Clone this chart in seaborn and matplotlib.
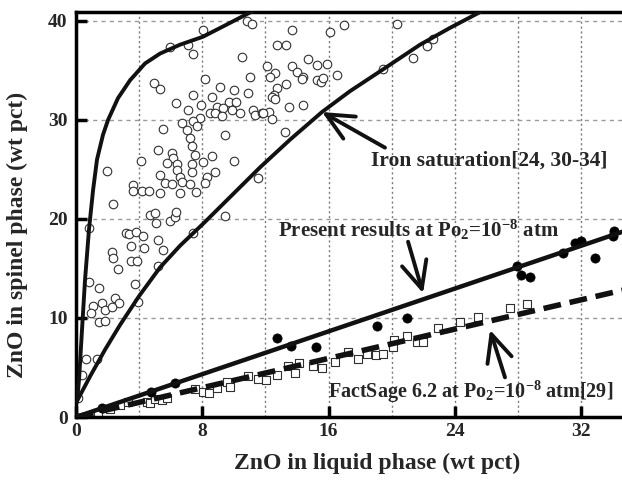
import matplotlib
matplotlib.use("Agg")
import matplotlib.pyplot as plt
import seaborn as sns
import pandas as pd
from matplotlib.ticker import MultipleLocator

# ---------------- data ----------------
# Iron saturation literature data (open circles)
lit_x = [10.83, 11.15, 8.04, 5.95, 7.09, 7.41, 10.51, 12.10, 11.02, 8.17, 4.94, 5.32, 9.12, 10.01,
         10.89, 7.41, 8.61, 6.33, 7.92, 9.69, 10.13, 8.93, 9.31, 9.88, 7.09, 8.49, 8.80, 9.25,
         10.39, 11.21, 11.34, 11.78, 7.85, 7.41, 7.66, 6.71, 5.51, 7.03, 9.44, 7.22, 7.35, 5.19,
         7.54, 6.08, 6.14, 8.61, 5.76, 6.40, 7.35, 8.04, 10.01, 4.12, 1.96, 6.40, 7.35, 8.80,
         5.32, 6.59, 8.30, 6.71, 5.64, 6.08, 7.22, 8.17, 3.61, 3.61, 4.18, 4.62, 5.32, 6.59,
         7.60, 11.53,
         16.97, 20.33, 16.09, 13.68, 12.73, 13.30, 14.69, 15.26, 15.90, 13.68, 14.00, 12.60,
         12.29, 14.38, 14.31, 16.53, 15.26, 15.52, 15.64, 13.30, 12.73, 12.54, 12.41, 12.60,
         13.49, 14.38, 12.22, 11.84, 12.41, 13.24, 19.44, 21.34, 22.23, 22.61,
         2.34, 4.69, 5.00, 5.07, 5.95, 6.27, 6.33, 9.44, 7.41, 3.17, 3.36, 3.80, 4.24, 5.19,
         3.48, 4.31, 5.51, 2.28, 2.34, 3.48, 3.86, 2.66, 5.19, 0.82, 1.46, 3.74, 2.47, 2.72,
         1.65, 1.08, 0.95, 1.84, 2.28, 3.93, 1.46, 1.84, 0.63, 1.33, 0.38, 0.13, 0.82]
lit_y = [40.0, 39.7, 39.1, 37.4, 37.6, 36.7, 36.4, 35.4, 34.3, 34.1, 33.7, 33.1, 33.3, 33.0,
         32.7, 32.5, 32.3, 31.7, 31.5, 31.8, 31.8, 31.3, 31.2, 31.0, 31.0, 30.7, 30.7, 30.4,
         30.7, 31.0, 30.5, 30.7, 30.2, 29.9, 29.4, 29.7, 29.1, 29.0, 28.5, 28.2, 27.4, 27.0,
         26.5, 26.7, 26.2, 26.4, 25.7, 25.5, 25.5, 25.8, 25.9, 25.9, 24.8, 24.9, 24.7, 24.7,
         24.4, 24.2, 24.2, 23.7, 23.6, 23.5, 23.5, 23.6, 23.4, 22.8, 22.8, 22.8, 22.6, 22.6,
         22.7, 24.1,
         39.6, 39.7, 38.9, 39.1, 37.6, 37.6, 36.2, 35.5, 35.6, 35.4, 34.8, 34.7,
         34.3, 34.3, 34.1, 34.5, 34.0, 33.8, 34.2, 33.6, 33.2, 32.5, 32.3, 32.1,
         31.3, 31.5, 30.8, 30.7, 30.1, 28.8, 35.1, 36.3, 37.5, 38.2,
         21.5, 20.4, 20.6, 19.6, 19.8, 20.2, 20.7, 20.3, 18.6, 18.6, 18.5, 18.7, 18.3, 17.9,
         17.3, 17.1, 16.9, 16.7, 16.1, 15.8, 15.8, 14.9, 15.2, 13.6, 13.0, 13.4, 12.0, 11.5,
         11.5, 11.2, 10.5, 10.8, 11.1, 11.6, 9.6, 9.7, 5.9, 5.9, 4.2, 1.9, 19.1]

# Present results (filled circles)
pres_x = [1.65, 4.75, 6.27, 12.73, 13.62, 15.20, 19.06, 20.96, 27.93, 28.18, 28.75, 30.84,
          31.60, 31.98, 32.87, 34.00, 34.07]
pres_y = [0.9, 2.5, 3.4, 8.0, 7.2, 7.1, 9.2, 10.0, 15.2, 14.3, 14.1, 16.6,
          17.6, 17.8, 16.1, 18.3, 18.8]

# FactSage calculated points (open squares)
fs_x = [1.39, 2.15, 2.79, 3.29, 4.50, 4.69, 5.00, 5.45, 5.76, 7.54, 8.04, 8.42, 8.93, 9.56,
        9.75, 10.89, 11.53, 12.03, 12.73, 13.43, 13.87, 14.12, 15.01, 15.58, 16.40, 17.23,
        17.86, 18.43, 19.00, 19.44, 20.08, 20.14, 20.96, 21.60, 21.98, 22.93, 24.32, 25.46,
        27.49, 28.56]
fs_y = [0.4, 0.8, 1.2, 1.5, 1.5, 1.4, 1.8, 1.7, 1.9, 2.8, 2.5, 2.4, 2.9, 3.5,
        3.0, 4.1, 3.8, 3.7, 4.2, 5.2, 4.4, 5.5, 5.1, 4.9, 5.6, 6.6,
        5.9, 6.4, 6.3, 6.4, 7.1, 7.8, 8.2, 7.6, 7.6, 9.0, 9.6, 10.1,
        11.0, 11.4]

# Iron saturation curves
curve1_x = [0.06, 0.19, 0.38, 0.57, 0.82, 1.08, 1.33, 1.71, 2.03, 2.66, 3.42, 4.37, 5.32,
            6.59, 8.04, 9.63, 11.2]
curve1_y = [1.5, 3.7, 8.8, 13.8, 18.9, 22.9, 26.0, 28.5, 30.0, 32.2, 34.0, 35.7, 36.7,
            37.6, 38.4, 39.7, 41.0]
curve2_x = [0.06, 0.89, 1.84, 2.79, 3.99, 5.32, 6.59, 8.17, 9.75, 11.65, 13.55, 15.58,
            17.35, 19.44, 21.79, 23.69, 25.6]
curve2_y = [1.6, 4.1, 6.8, 9.3, 12.2, 15.1, 17.3, 19.7, 22.2, 25.2, 28.0, 30.8,
            32.9, 35.1, 37.6, 39.3, 40.9]

# Straight fitted lines
pres_line_x = [0.0, 34.6]
pres_line_y = [0.0, 18.7]
fs_line_x = [0.0, 34.6]
fs_line_y = [0.0, 12.8]

x_ticks = [0, 8, 16, 24, 32]
y_ticks = [0, 10, 20, 30, 40]

# ---------------- plotting ----------------
sns.set_theme(style="white")
plt.rcParams["font.family"] = ["Liberation Serif", "DejaVu Serif"]
plt.rcParams["font.weight"] = "bold"
plt.rcParams["mathtext.fontset"] = "custom"
plt.rcParams["mathtext.rm"] = "Liberation Serif:bold"
plt.rcParams["mathtext.it"] = "Liberation Serif:bold"
plt.rcParams["mathtext.bf"] = "Liberation Serif:bold"

fig = plt.figure(figsize=(6.22, 4.80), dpi=100)
ax = fig.add_axes([76 / 622, 63 / 480, 546 / 622, 405 / 480])

lit_df = pd.DataFrame({"x": lit_x, "y": lit_y})
pres_df = pd.DataFrame({"x": pres_x, "y": pres_y})
fs_df = pd.DataFrame({"x": fs_x, "y": fs_y})

sns.scatterplot(data=lit_df, x="x", y="y", ax=ax, marker="o", s=38,
                facecolor="white", edgecolor="#303030", linewidth=0.8, zorder=2)
sns.scatterplot(data=fs_df, x="x", y="y", ax=ax, marker="s", s=36,
                facecolor="white", edgecolor="#303030", linewidth=0.8, zorder=2)
sns.scatterplot(data=pres_df, x="x", y="y", ax=ax, marker="o", s=44,
                color="black", edgecolor="black", linewidth=0.5, zorder=2)

sns.lineplot(x=curve1_x, y=curve1_y, ax=ax, sort=False, estimator=None,
             color="#111111", lw=2.8, zorder=3)
sns.lineplot(x=curve2_x, y=curve2_y, ax=ax, sort=False, estimator=None,
             color="#111111", lw=2.8, zorder=3)
sns.lineplot(x=pres_line_x, y=pres_line_y, ax=ax, sort=False, estimator=None,
             color="#111111", lw=3.2, zorder=3)
ax.plot(fs_line_x, fs_line_y, color="#111111", lw=4.0, zorder=3,
        linestyle=(0, (3.2, 1.6)), dash_capstyle="butt")

ax.set_xlim(0, 34.58)
ax.set_ylim(0, 40.9)
ax.xaxis.set_major_locator(MultipleLocator(8))
ax.xaxis.set_minor_locator(MultipleLocator(4))
ax.set_xticks(x_ticks)
ax.set_yticks(y_ticks)

ax.grid(False)
ax.xaxis.grid(True, which="both", color="#7a7a7a", linestyle=(0, (1.5, 2)), lw=1.0)
ax.yaxis.grid(True, which="major", color="#9a9a9a", linestyle=(0, (3, 3)), lw=1.0)
ax.set_axisbelow(True)

ax.tick_params(axis="both", which="major", direction="in", length=8, width=2.5,
               labelsize=14, pad=4, color="black", bottom=True, left=True)
ax.tick_params(axis="x", which="minor", length=0)
ax.tick_params(axis="y", which="major", pad=6)
for lab in ax.get_xticklabels() + ax.get_yticklabels():
    lab.set_fontweight("bold")

for side in ["left", "bottom", "top"]:
    ax.spines[side].set_visible(True)
    ax.spines[side].set_linewidth(2.5)
    ax.spines[side].set_color("black")
ax.spines["right"].set_visible(False)

ax.set_xlabel("ZnO in liquid phase (wt pct)", fontsize=17, fontweight="bold")
ax.set_ylabel("ZnO in spinel phase (wt pct)", fontsize=17, fontweight="bold")
ax.xaxis.set_label_coords(0.551, -0.088)
ax.yaxis.set_label_coords(-0.088, 0.45)

arrow = dict(arrowstyle="->,head_length=0.75,head_width=0.35", lw=2.8, color="#111111",
             mutation_scale=26, shrinkA=0, shrinkB=0)

ax.annotate("", xy=(15.58, 30.8), xytext=(19.57, 27.2), arrowprops=arrow, zorder=4)
ax.text(18.68, 25.9, "Iron saturation[24, 30-34]", fontsize=15.5, fontweight="bold",
        ha="left", va="center")

ax.annotate("", xy=(21.98, 12.5), xytext=(21.03, 17.7), arrowprops=arrow, zorder=4)
ax.text(12.79, 18.9, r"Present results at Po$_2$=10$^{-8}$ atm", fontsize=15,
        fontweight="bold", ha="left", va="center")

ax.annotate("", xy=(26.22, 8.8), xytext=(27.17, 4.0), arrowprops=arrow, zorder=4)
ax.text(15.96, 2.5, r"FactSage 6.2 at Po$_2$=10$^{-8}$ atm[29]", fontsize=14.5,
        fontweight="bold", ha="left", va="center")

fig.savefig("out.png", dpi=100)
